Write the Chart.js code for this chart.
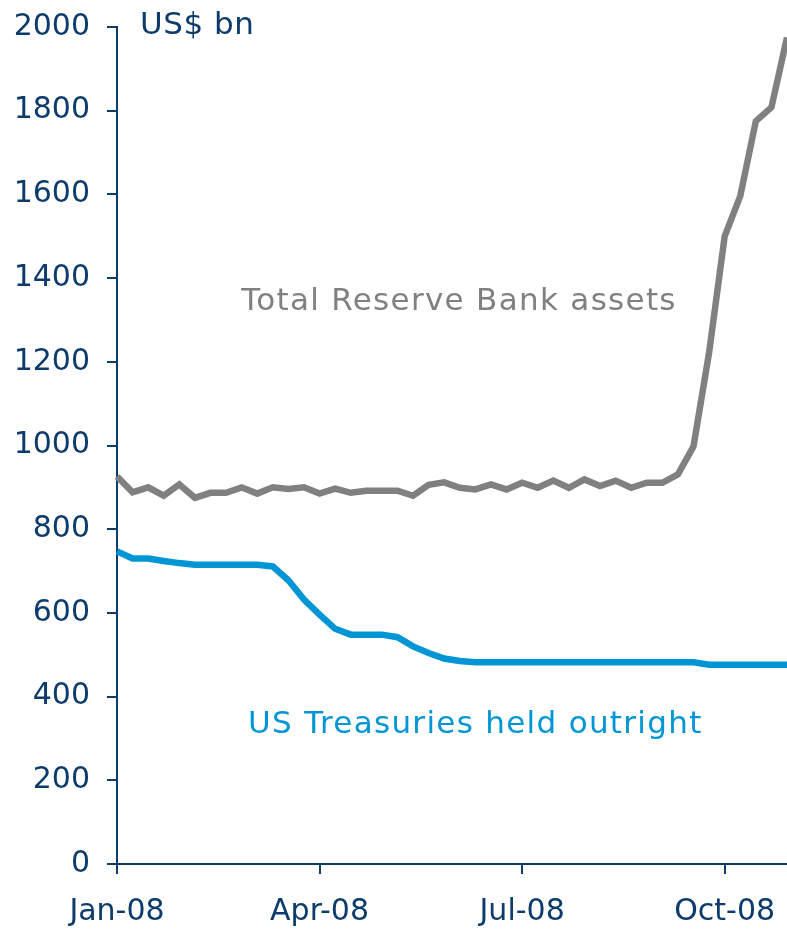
<!DOCTYPE html>
<html>
<head>
<meta charset="utf-8">
<script src="https://cdn.jsdelivr.net/npm/chart.js@4"></script>
<style>
  html, body { margin: 0; padding: 0; background: #fff; }
  #wrap { width: 787px; height: 929px; }
</style>
</head>
<body>
<div id="wrap"><canvas id="chart"></canvas></div>
<script>
'use strict';

// weekly observations (Wednesdays, 2008)
const WEEKS = [
  '2008-01-02', '2008-01-09', '2008-01-16', '2008-01-23', '2008-01-30',
  '2008-02-06', '2008-02-13', '2008-02-20', '2008-02-27',
  '2008-03-05', '2008-03-12', '2008-03-19', '2008-03-26',
  '2008-04-02', '2008-04-09', '2008-04-16', '2008-04-23', '2008-04-30',
  '2008-05-07', '2008-05-14', '2008-05-21', '2008-05-28',
  '2008-06-04', '2008-06-11', '2008-06-18', '2008-06-25',
  '2008-07-02', '2008-07-09', '2008-07-16', '2008-07-23', '2008-07-30',
  '2008-08-06', '2008-08-13', '2008-08-20', '2008-08-27',
  '2008-09-03', '2008-09-10', '2008-09-17', '2008-09-24',
  '2008-10-01', '2008-10-08', '2008-10-15', '2008-10-22', '2008-10-29',
];

// US$ bn
const TOTAL_ASSETS = [
  926, 888, 900, 880, 907, 875, 887, 887, 900, 885,
  900, 896, 900, 885, 897, 887, 892, 892, 892, 880,
  906, 912, 899, 895, 907, 895, 911, 899, 916, 899,
  919, 903, 916, 899, 911, 911, 931, 998, 1222, 1500,
  1596, 1775, 1808, 1975,
];

const TREASURIES = [
  747, 730, 730, 724, 719, 715, 715, 715, 715, 715,
  711, 678, 632, 596, 562, 548, 548, 548, 542, 520,
  504, 491, 485, 482, 482, 482, 482, 482, 482, 482,
  482, 482, 482, 482, 482, 482, 482, 482, 476, 476,
  476, 476, 476, 476,
];

// which weeks carry a labelled tick on the x axis
const X_TICKS = { 0: 'Jan-08', 13: 'Apr-08', 26: 'Jul-08', 39: 'Oct-08' };

const Y_MIN = 0, Y_MAX = 2000, Y_STEP = 200;

const NAVY = '#0d3b6b';
const GREY = '#808080';
const BLUE = '#0096d6';
const FONT = '"DejaVu Sans", Verdana, sans-serif';

// free text labels, anchored in data space
const annotations = {
  id: 'annotations',
  afterDraw(chart) {
    const { ctx, scales: { x, y } } = chart;
    const items = [
      { text: 'US$ bn', i: 1.48, v: 1983, color: NAVY, align: 'left', base: 'alphabetic', spacing: '0.5px' },
      { text: 'Total Reserve Bank assets', i: 21.95, v: 1343, color: GREY, align: 'center', base: 'middle', spacing: '1.3px' },
      { text: 'US Treasuries held outright', i: 23.0, v: 333, color: BLUE, align: 'center', base: 'middle', spacing: '1.3px' },
    ];
    ctx.save();
    ctx.font = '31px ' + FONT;
    for (const it of items) {
      ctx.letterSpacing = it.spacing;
      ctx.fillStyle = it.color;
      ctx.textAlign = it.align;
      ctx.textBaseline = it.base;
      ctx.fillText(it.text, x.getPixelForValue(it.i), y.getPixelForValue(it.v));
    }
    ctx.restore();
  }
};

new Chart(document.getElementById('chart'), {
  type: 'line',
  data: {
    labels: WEEKS,
    datasets: [
      {
        label: 'Total Reserve Bank assets',
        data: TOTAL_ASSETS,
        borderColor: GREY,
        borderWidth: 6.5,
        pointRadius: 0,
        tension: 0,
        fill: false,
      },
      {
        label: 'US Treasuries held outright',
        data: TREASURIES,
        borderColor: BLUE,
        borderWidth: 6.5,
        pointRadius: 0,
        tension: 0,
        fill: false,
      },
    ]
  },
  options: {
    responsive: true,
    maintainAspectRatio: false,
    animation: false,
    layout: { padding: { top: 27, right: 0, left: 0, bottom: 0 } },
    plugins: {
      legend: { display: false },
      tooltip: { enabled: false },
    },
    scales: {
      x: {
        type: 'category',
        offset: false,
        afterFit(scale) {
          scale.height = 65;
          scale.paddingLeft = 0;
          scale.paddingRight = 0;
        },
        border: { color: NAVY, width: 2 },
        grid: {
          drawOnChartArea: false,
          drawTicks: true,
          tickLength: 10,
          color: NAVY,
          lineWidth: 2,
        },
        ticks: {
          autoSkip: false,
          maxRotation: 0,
          padding: 20,
          color: NAVY,
          font: { family: FONT, size: 30 },
          callback: (v, i) => (i in X_TICKS ? X_TICKS[i] : null),
        }
      },
      y: {
        min: Y_MIN,
        max: Y_MAX,
        afterFit(scale) {
          scale.width = 117;
          scale.paddingTop = 0;
          scale.paddingBottom = 0;
        },
        border: { color: NAVY, width: 2 },
        grid: {
          drawOnChartArea: false,
          drawTicks: true,
          tickLength: 10,
          color: NAVY,
          lineWidth: 2,
        },
        ticks: {
          stepSize: Y_STEP,
          padding: 17,
          color: NAVY,
          font: { family: FONT, size: 30 },
          callback: v => String(v),
        }
      }
    }
  },
  plugins: [annotations]
});
</script>
</body>
</html>
